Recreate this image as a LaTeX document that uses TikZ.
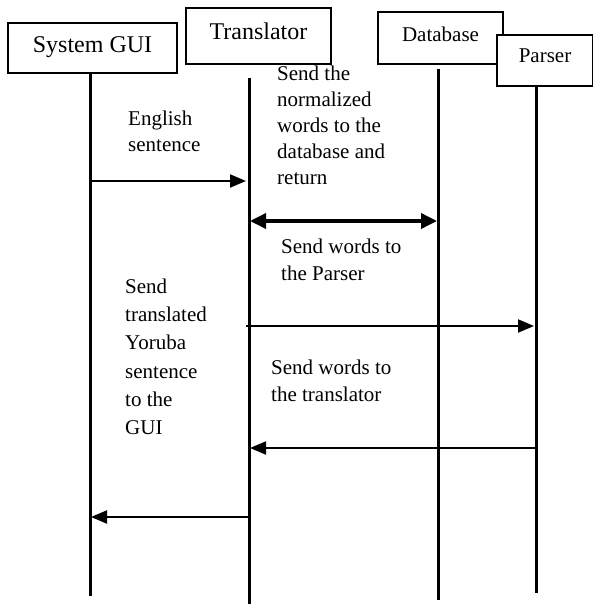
\documentclass[tikz,border=0pt]{standalone}
\usepackage{fontspec}
\setmainfont{Liberation Serif}
\usetikzlibrary{arrows.meta}
\tikzset{
  box/.style={draw, line width=1.5pt, fill=white, inner sep=0pt, align=center},
  lifeline/.style={line width=3pt},
  msg/.style={line width=2pt, -{Triangle[length=16pt,width=13pt]}},
  dmsg/.style={line width=3.5pt, {Triangle[length=16pt,width=15pt]}-{Triangle[length=16pt,width=15pt]}},
  note/.style={anchor=north west, inner sep=0pt, align=left},
}
\begin{document}
\begin{tikzpicture}[x=1pt,y=-1pt]
\useasboundingbox (0,0) rectangle (592,604);
% boxes
\node[box, minimum width=169pt, minimum height=50pt, text height=16pt, text depth=6pt,
      font=\fontsize{24}{28}\selectfont] (gui) at (92.5,48) {System GUI};
\node[box, minimum width=145pt, minimum height=56pt, text height=16pt, text depth=8pt,
      font=\fontsize{24}{28}\selectfont] (tr) at (258.5,36) {Translator};
\node[box, minimum width=125pt, minimum height=52pt, text height=14pt, text depth=6pt,
      font=\fontsize{21}{26}\selectfont] (db) at (440.5,38) {Database};
\node[box, minimum width=96pt, minimum height=51pt, text height=14pt, text depth=9pt,
      font=\fontsize{21}{26}\selectfont] (pa) at (545,60.5) {Parser};
% lifelines
\coordinate (guiT) at (90,73);  \coordinate (guiB) at (90,596);
\coordinate (trT) at (249,78);  \coordinate (trB) at (249,606);
\coordinate (dbT) at (438,69);  \coordinate (dbB) at (438,600);
\coordinate (paT) at (536,86);  \coordinate (paB) at (536,593);
\draw[lifeline] (guiT) -- (guiB);
\draw[lifeline] (trT) -- (trB);
\draw[lifeline] (dbT) -- (dbB);
\draw[lifeline] (paT) -- (paB);
% message end points
\coordinate (m1a) at (90,181);  \coordinate (m1b) at (246,181);
\coordinate (m2a) at (250,221); \coordinate (m2b) at (437,221);
\coordinate (m3a) at (246,326); \coordinate (m3b) at (534,326);
\coordinate (m4a) at (537,448); \coordinate (m4b) at (250,448);
\coordinate (m5a) at (249,517); \coordinate (m5b) at (91,517);
\draw[msg] (m1a) -- (m1b);
\draw[dmsg] (m2a) -- (m2b);
\draw[msg] (m3a) -- (m3b);
\draw[msg] (m4a) -- (m4b);
\draw[msg] (m5a) -- (m5b);
% labels
\node[note, font=\fontsize{21}{26}\selectfont] (t1) at (128,110.7) {English\\sentence};
\node[note, font=\fontsize{21}{26}\selectfont] (t2) at (277,65.7) {Send the\\normalized\\words to the\\database and\\return};
\node[note, font=\fontsize{21}{27}\selectfont] (t3) at (281,238.7) {Send words to\\the Parser};
\node[note, font=\fontsize{21}{28.2}\selectfont] (t4) at (125,278.7) {Send\\translated\\Yoruba\\sentence\\to the\\GUI};
\node[note, font=\fontsize{21}{27}\selectfont] (t5) at (271,359.7) {Send words to\\the translator};
\end{tikzpicture}
\end{document}
